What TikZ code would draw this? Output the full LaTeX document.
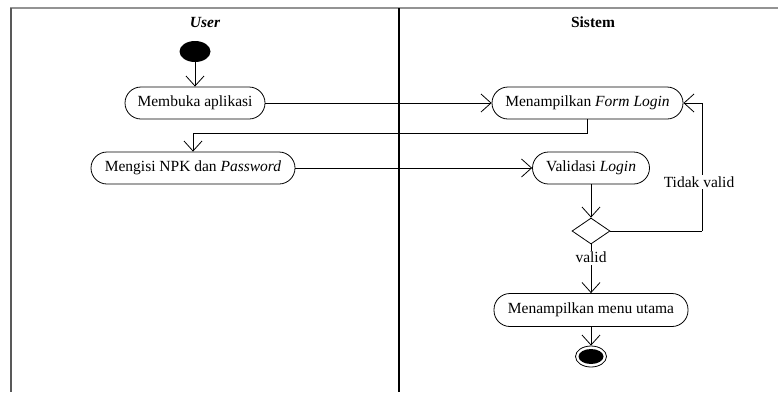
\documentclass[tikz,border=0pt]{standalone}
\usepackage{fontspec}
\setmainfont{Liberation Serif}
\usetikzlibrary{arrows.meta,shapes.geometric}
\begin{document}
\begin{tikzpicture}[x=1pt,y=-1pt,
  font=\fontsize{15.5}{18}\selectfont,
  action/.style={draw,line width=0.8pt,rounded corners=16pt,minimum height=32pt,inner sep=0pt},
  flow/.style={line width=0.8pt,-{Straight Barb[length=10pt,width=18pt,line width=0.8pt]}},
  plain/.style={line width=0.8pt},
  lbl/.style={fill=white,inner sep=1.5pt},
  lanetitle/.style={font=\fontsize{15.5}{18}\selectfont\bfseries}]
\useasboundingbox (0,0) rectangle (778,392);

% swimlane frame
\draw[line width=2pt,gray!85] (10,8) -- (778,8);
\draw[line width=2pt,black!65] (11,8) -- (11,392);
\draw[line width=2.6pt,black] (399,8) -- (399,392);
\node[lanetitle] (tuser) at (205,22) {\itshape User};
\node[lanetitle] (tsys) at (593,22) {Sistem};

% activities
\node[ellipse,fill=black,minimum width=31pt,minimum height=21pt,inner sep=0pt] (start) at (195,51.5) {};
\node[action,minimum width=140pt] (membuka) at (195,103) {Membuka aplikasi};
\node[action,minimum width=191pt] (form) at (587.5,103) {Menampilkan \textit{Form Login}};
\node[action,minimum width=204pt] (mengisi) at (193,168) {Mengisi NPK dan \textit{Password}};
\node[action,minimum width=117pt] (validasi) at (591,168) {Validasi \textit{Login}};
\node[diamond,draw,line width=0.8pt,minimum width=38pt,minimum height=26pt,inner sep=0pt] (dec) at (591,231) {};
\node[action,minimum width=194pt,minimum height=33pt] (menu) at (591,310) {Menampilkan menu utama};
\node[ellipse,draw,line width=0.8pt,minimum width=31pt,minimum height=21pt,inner sep=0pt] (end) at (591,356.5) {};
\node[ellipse,fill=black,minimum width=25pt,minimum height=15pt,inner sep=0pt] (endin) at (591,356.5) {};

\coordinate (loopbot) at (702,231);
\coordinate (looptop) at (702,103);

% control flow
\draw[flow] (start) -- (membuka);
\draw[flow] (membuka) -- (form);
\draw[flow] (form.south) -- ++(0,14) -| (mengisi.north);
\draw[flow] (mengisi) -- (validasi);
\draw[flow] (validasi) -- (dec);
\draw[plain] (dec.east) -- (loopbot);
\draw[flow] (loopbot) -- node[lbl,pos=0.38,xshift=-3pt] {Tidak valid} (looptop) -- (form.east);
\draw[flow] (dec.south) -- node[lbl,pos=0.27] {valid} (menu.north);
\draw[flow] (menu) -- (end);
\end{tikzpicture}
\end{document}
